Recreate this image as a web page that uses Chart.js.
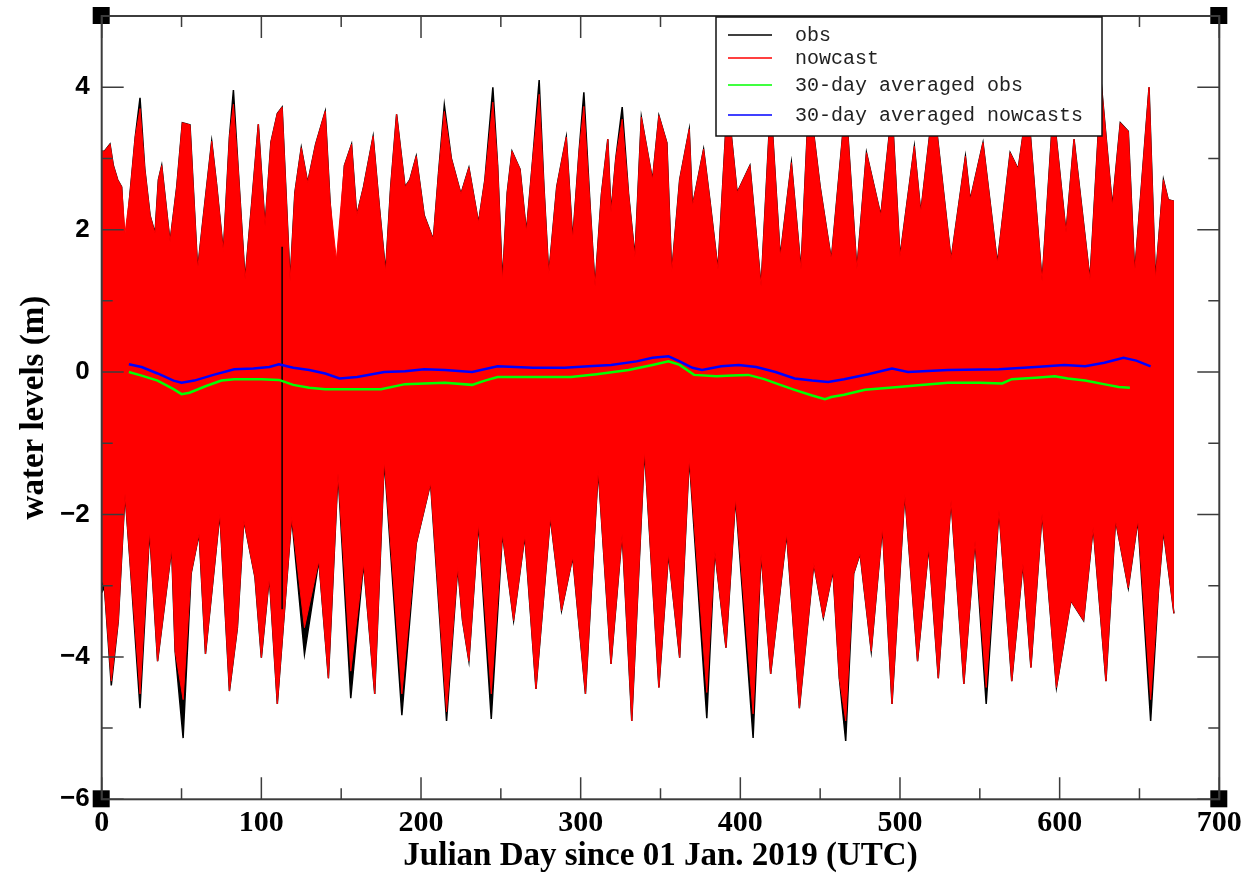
<!DOCTYPE html>
<html>
<head>
<meta charset="utf-8">
<script src="https://cdn.jsdelivr.net/npm/chart.js@4/dist/chart.umd.min.js"></script>
<style>
  html, body { margin: 0; padding: 0; background: #fff; }
</style>
</head>
<body>
<canvas id="wlChart" width="1254" height="877"></canvas>
<script>
// upper edge of the hourly band (days since 01 Jan 2019, metres)
var upDays = [0, 1.7, 5.2, 7.3, 10, 12.5, 14.6, 17.7, 21, 24,
  27, 30.3, 33.4, 35.5, 37.6, 42.8, 47, 50.5, 55.3, 60.1,
  63, 68.9, 72, 76.2, 80, 82.5, 85.5, 89.8, 94, 98.1,
  102.3, 106, 110, 113, 118, 121, 125, 129, 134, 140,
  143, 147, 152, 156.5, 159.7, 164, 170, 174, 177.8, 181,
  184.7, 190, 193, 197, 202, 207.7, 211, 214.6, 219, 225,
  230, 236, 240, 245, 248, 251, 254, 257, 262, 266,
  270, 274, 277, 280, 285, 291, 295, 299, 302, 306,
  309, 313, 317, 319, 322, 326, 330, 334, 338, 345,
  349, 354, 357, 362, 368, 370, 377, 381, 386, 392,
  398, 406, 413, 419, 425, 432, 438, 443, 450, 457,
  466, 473, 479, 488, 495, 500, 509, 513, 521, 532,
  541, 544, 552, 561, 569, 574, 580, 589, 596, 604,
  609, 619, 626, 633, 638, 643, 647, 656, 660, 665,
  668, 671.6];
var nowUp = [3.1, 3.1, 3.2, 2.9, 2.7, 2.6, 1.95, 2.5, 3.3, 3.7,
  2.85, 2.2, 1.95, 2.7, 2.9, 1.83, 2.6, 3.5, 3.47, 1.44,
  2.05, 3.24, 2.63, 1.69, 3.3, 3.76, 2.85, 1.3, 2.38, 3.48,
  2.05, 3.23, 3.63, 3.72, 1.27, 2.52, 3.15, 2.66, 3.2, 3.66,
  2.4, 1.58, 2.9, 3.2, 2.2, 2.6, 3.31, 2.3, 1.41, 2.6,
  3.62, 2.6, 2.7, 3.03, 2.2, 1.86, 2.8, 3.66, 3.0, 2.5,
  2.87, 2.1, 2.7, 3.79, 2.9, 1.27, 2.52, 3.1, 2.85, 1.97,
  3.0, 3.9, 2.6, 1.37, 2.6, 3.3, 1.86, 3.1, 3.73, 2.3,
  1.2, 2.5, 3.27, 2.24, 3.0, 3.55, 2.5, 1.62, 3.58, 2.7,
  3.6, 3.22, 1.39, 2.7, 3.41, 2.33, 3.13, 2.4, 1.44, 3.85,
  2.52, 2.9, 1.2, 3.8, 1.62, 2.94, 1.44, 3.9, 2.6, 1.58,
  3.8, 1.44, 3.08, 2.2, 3.7, 1.62, 3.17, 2.24, 3.8, 1.58,
  3.03, 2.42, 3.22, 1.53, 3.08, 2.85, 3.8, 1.27, 3.7, 1.96,
  3.27, 1.3, 4.07, 2.33, 3.5, 3.38, 1.39, 4.0, 1.3, 2.7,
  2.42, 2.4];
var obsUp = [3.1, 3.1, 3.2, 2.9, 2.7, 2.6, 1.75, 2.5, 3.3, 3.85,
  2.85, 2.2, 1.95, 2.7, 2.9, 1.83, 2.6, 3.5, 3.47, 1.44,
  2.05, 3.24, 2.63, 1.69, 3.3, 3.96, 2.85, 1.3, 2.38, 3.48,
  2.05, 3.23, 3.63, 3.72, 1.27, 2.52, 3.15, 2.66, 3.2, 3.66,
  2.4, 1.2, 2.9, 3.2, 2.2, 2.6, 3.31, 2.3, 1.41, 2.6,
  3.62, 2.6, 2.7, 3.03, 2.2, 1.86, 2.8, 3.75, 3.0, 2.5,
  2.87, 2.1, 2.7, 4.0, 2.9, 1.27, 2.52, 3.1, 2.85, 1.97,
  3.0, 4.1, 2.6, 1.37, 2.6, 3.3, 1.86, 3.1, 3.93, 2.3,
  1.2, 2.5, 3.27, 2.24, 3.0, 3.72, 2.5, 1.62, 3.58, 2.7,
  3.6, 3.22, 1.39, 2.7, 3.41, 2.33, 3.13, 2.4, 1.44, 3.85,
  2.52, 2.9, 1.2, 3.8, 1.62, 2.94, 1.44, 3.9, 2.6, 1.58,
  3.8, 1.44, 3.08, 2.2, 3.7, 1.62, 3.17, 2.24, 3.8, 1.58,
  3.03, 2.42, 3.22, 1.53, 3.08, 2.85, 3.8, 1.27, 3.7, 1.96,
  3.27, 1.3, 4.07, 2.33, 3.5, 3.38, 1.39, 4.0, 1.3, 2.7,
  2.42, 2.4];

// lower edge of the band
var loDays = [0, 1.7, 6, 10.4, 14.6, 17.7, 24, 30, 35, 43.8,
  46, 51, 56, 61, 65, 74, 80, 85, 89, 96,
  100, 105, 110, 119, 127, 136, 142, 148, 156, 164,
  171, 177, 188, 197, 206, 216, 223, 226, 230, 236,
  244, 251, 258, 265, 272, 281, 288, 295, 303, 311,
  319, 326, 332, 340, 349, 355, 362, 368, 379, 384,
  391, 397, 408, 413, 419, 429, 437, 446, 452, 458,
  462, 466, 471, 475, 482, 489, 495, 503, 511, 518,
  524, 532, 540, 547, 554, 562, 570, 577, 582, 589,
  598, 607, 615, 621, 629, 635, 643, 649, 657, 662,
  665, 671.6];
var nowLo = [-2.9, -3.02, -4.34, -3.49, -1.71, -2.65, -4.52, -2.23, -4.06, -2.48,
  -3.92, -4.6, -2.83, -2.27, -3.96, -1.99, -4.48, -3.59, -2.08, -2.88,
  -4.01, -2.88, -4.66, -2.04, -3.59, -2.65, -4.3, -1.42, -4.2, -2.69,
  -4.52, -1.24, -4.52, -2.41, -1.56, -4.77, -2.74, -3.49, -4.06, -2.13,
  -4.52, -2.27, -3.49, -2.3, -4.45, -2.04, -3.35, -2.6, -4.52, -1.38,
  -4.1, -2.27, -4.9, -1.1, -4.43, -2.55, -4.01, -1.21, -4.5, -2.51,
  -3.87, -1.77, -4.8, -2.55, -4.24, -2.27, -4.72, -2.69, -3.45, -2.79,
  -4.3, -4.9, -2.83, -2.55, -3.92, -2.18, -4.66, -1.71, -4.06, -2.46,
  -4.3, -1.8, -4.38, -2.37, -4.43, -1.94, -4.34, -2.69, -4.15, -1.99,
  -4.43, -3.21, -3.49, -2.18, -4.34, -2.08, -3.03, -2.08, -4.6, -3.03,
  -2.23, -3.39];
var obsLo = [-3.1, -3.02, -4.4, -3.49, -1.71, -2.65, -4.72, -2.23, -4.06, -2.48,
  -3.92, -5.14, -2.83, -2.27, -3.96, -1.99, -4.48, -3.59, -2.08, -2.88,
  -4.01, -2.88, -4.66, -2.04, -3.96, -2.65, -4.3, -1.42, -4.58, -2.69,
  -4.52, -1.24, -4.82, -2.41, -1.56, -4.9, -2.74, -3.49, -4.06, -2.13,
  -4.87, -2.27, -3.49, -2.3, -4.45, -2.04, -3.35, -2.6, -4.52, -1.38,
  -4.1, -2.27, -4.9, -1.1, -4.43, -2.55, -4.01, -1.21, -4.86, -2.51,
  -3.87, -1.77, -5.14, -2.55, -4.24, -2.27, -4.72, -2.69, -3.45, -2.79,
  -4.3, -5.18, -2.83, -2.55, -3.92, -2.18, -4.66, -1.71, -4.06, -2.46,
  -4.3, -1.8, -4.38, -2.37, -4.66, -1.94, -4.34, -2.69, -4.15, -1.99,
  -4.43, -3.21, -3.49, -2.18, -4.34, -2.08, -3.03, -2.08, -4.9, -3.03,
  -2.23, -3.39];

// stray obs segment near day 113
var gapDays = [113, 113];
var gapVals = [1.76, -3.33];

// 30-day averages
var avgObsDays = [17, 25, 35, 45, 50, 55, 65, 75, 83, 100, 111, 120, 130, 140, 160, 175, 190, 202, 215, 232,
  240, 248, 270, 294, 310, 330, 345, 355, 362, 371, 385, 395, 405, 415, 425, 434, 445, 453, 457, 465,
  478, 499, 515, 530, 550, 564, 570, 585, 597, 605, 616, 630, 637, 644];
var avgObs = [0.0, -0.05, -0.12, -0.24, -0.31, -0.29, -0.2, -0.12, -0.1, -0.1, -0.11, -0.18, -0.22, -0.24, -0.24, -0.24, -0.17, -0.16, -0.15, -0.18,
  -0.12, -0.07, -0.07, -0.07, -0.03, 0.03, 0.1, 0.15, 0.1, -0.04, -0.06, -0.05, -0.04, -0.1, -0.18, -0.25, -0.33, -0.38, -0.35, -0.32,
  -0.25, -0.21, -0.18, -0.15, -0.15, -0.16, -0.1, -0.08, -0.06, -0.09, -0.12, -0.18, -0.21, -0.22];
var avgNowDays = [17, 25, 35, 45, 50, 58, 70, 83, 95, 105, 111, 120, 130, 140, 149, 160, 177, 190, 202, 215,
  232, 248, 270, 290, 305, 319, 335, 345, 355, 362, 370, 376, 388, 399, 410, 422, 434, 445, 455, 465,
  480, 495, 505, 530, 562, 585, 603, 616, 628, 640, 648, 657];
var avgNow = [0.11, 0.07, -0.02, -0.12, -0.15, -0.12, -0.04, 0.04, 0.05, 0.07, 0.11, 0.06, 0.03, -0.02, -0.09, -0.07, 0.0, 0.01, 0.04, 0.03,
  0.0, 0.08, 0.06, 0.06, 0.08, 0.1, 0.15, 0.2, 0.22, 0.15, 0.06, 0.03, 0.08, 0.1, 0.07, 0.0, -0.09, -0.12, -0.14, -0.1,
  -0.03, 0.05, 0.0, 0.03, 0.04, 0.07, 0.1, 0.08, 0.13, 0.2, 0.16, 0.08];

var yTicks = [-6, -4, -2, 0, 2, 4];
var xTicks = [0, 100, 200, 300, 400, 500, 600, 700];

function pts(days, vals) {
  return days.map(function (d, i) { return { x: d, y: vals[i] }; });
}

// inward ticks, frame and corner marks
var frameTicks = {
  id: "frameTicks",
  afterDatasetsDraw: function (chart) {
    var ctx = chart.ctx, a = chart.chartArea;
    var xs = chart.scales.x, ys = chart.scales.y;
    ctx.save();
    ctx.fillStyle = "#000";
    [[a.left, a.top], [a.right, a.top], [a.left, a.bottom], [a.right, a.bottom]].forEach(function (c) {
      ctx.fillRect(c[0] - 9, c[1] - 9, 17, 17);
    });
    ctx.strokeStyle = "#3c3c3c";
    ctx.lineWidth = 1.5;
    ys.ticks.forEach(function (t) {
      var py = ys.getPixelForValue(t.value);
      var len = yTicks.indexOf(t.value) >= 0 ? 22 : 11;
      ctx.beginPath();
      ctx.moveTo(a.left, py); ctx.lineTo(a.left + len, py);
      ctx.moveTo(a.right, py); ctx.lineTo(a.right - len, py);
      ctx.stroke();
    });
    xs.ticks.forEach(function (t) {
      var px = xs.getPixelForValue(t.value);
      var len = xTicks.indexOf(t.value) >= 0 ? 22 : 11;
      ctx.beginPath();
      ctx.moveTo(px, a.bottom); ctx.lineTo(px, a.bottom - len);
      ctx.moveTo(px, a.top); ctx.lineTo(px, a.top + len);
      ctx.stroke();
    });
    ctx.lineWidth = 2;
    ctx.strokeRect(a.left, a.top, a.right - a.left, a.bottom - a.top);
    ctx.restore();
  }
};

// boxed legend inside the plot, top right
var boxLegend = {
  id: "boxLegend",
  afterDraw: function (chart) {
    var ctx = chart.ctx;
    var rows = [35, 58, 85, 115];
    var items = chart.data.datasets.filter(function (d) { return d.inLegend; });
    ctx.save();
    ctx.fillStyle = "#fff";
    ctx.fillRect(716, 17, 386, 119);
    ctx.strokeStyle = "#111";
    ctx.lineWidth = 1.5;
    ctx.strokeRect(716, 17, 386, 119);
    ctx.font = '20px "Liberation Mono", "Courier New", monospace';
    ctx.textBaseline = "middle";
    items.forEach(function (d, i) {
      ctx.strokeStyle = d.borderColor;
      ctx.lineWidth = 1.5;
      ctx.beginPath();
      ctx.moveTo(728, rows[i]);
      ctx.lineTo(772, rows[i]);
      ctx.stroke();
      ctx.fillStyle = "#222";
      ctx.fillText(d.label, 795, rows[i] + 1);
    });
    ctx.restore();
  }
};

document.addEventListener("DOMContentLoaded", function () {
  var ctx = document.getElementById("wlChart").getContext("2d");
  new Chart(ctx, {
    type: "line",
    data: {
      datasets: [
        { label: "obs", inLegend: true, data: pts(upDays, obsUp), borderColor: "#000000", backgroundColor: "#000000",
          borderWidth: 1.5, pointRadius: 0, fill: "origin", order: 6 },
        { label: "obs (low)", data: pts(loDays, obsLo), borderColor: "#000000", backgroundColor: "#000000",
          borderWidth: 1.5, pointRadius: 0, fill: "origin", order: 6 },
        { label: "nowcast", inLegend: true, data: pts(upDays, nowUp), borderColor: "#ff0000", backgroundColor: "#ff0000",
          borderWidth: 1, pointRadius: 0, fill: "origin", order: 5 },
        { label: "nowcast (low)", data: pts(loDays, nowLo), borderColor: "#ff0000", backgroundColor: "#ff0000",
          borderWidth: 1, pointRadius: 0, fill: "origin", order: 5 },
        { label: "obs (gap)", data: pts(gapDays, gapVals), borderColor: "#000000",
          borderWidth: 1.5, pointRadius: 0, fill: false, order: 3 },
        { label: "30-day averaged obs", inLegend: true, data: pts(avgObsDays, avgObs), borderColor: "#00ff00",
          borderWidth: 2.5, pointRadius: 0, fill: false, order: 2 },
        { label: "30-day averaged nowcasts", inLegend: true, data: pts(avgNowDays, avgNow), borderColor: "#0000ff",
          borderWidth: 2.5, pointRadius: 0, fill: false, order: 1 }
      ]
    },
    options: {
      responsive: false,
      animation: false,
      layout: { padding: { left: 0, right: 34.7, top: 16, bottom: 0 } },
      plugins: { legend: { display: false }, tooltip: { enabled: false } },
      scales: {
        x: {
          type: "linear", min: 0, max: 700,
          afterFit: function (s) { s.height = 77.7; },
          grid: { display: false, drawTicks: false },
          border: { display: false },
          ticks: {
            stepSize: 50, autoSkip: false, maxRotation: 0, padding: 6, color: "#000",
            font: { family: '"Liberation Serif", "Times New Roman", serif', size: 30, weight: "bold" },
            callback: function (v) { return xTicks.indexOf(v) >= 0 ? String(v) : ""; }
          },
          title: {
            display: true, text: "Julian Day since 01 Jan. 2019 (UTC)", color: "#000",
            font: { family: '"Liberation Serif", "Times New Roman", serif', size: 33, weight: "bold" },
            padding: { top: 0, bottom: 1 }
          }
        },
        y: {
          type: "linear", min: -6, max: 5,
          afterFit: function (s) { s.width = 101.7; s.paddingTop = 0; },
          // no tick object at the top edge, so no extra label room is reserved there
          afterBuildTicks: function (s) { s.ticks = s.ticks.filter(function (t) { return t.value < 5; }); },
          grid: { display: false, drawTicks: false },
          border: { display: false },
          ticks: {
            stepSize: 1, autoSkip: false, padding: 12, color: "#000",
            font: { family: '"Liberation Sans", Arial, sans-serif', size: 26, weight: "bold" },
            callback: function (v) {
              if (yTicks.indexOf(v) < 0) return "";
              return v < 0 ? "\u2212" + Math.abs(v) : String(v);
            }
          },
          title: {
            display: true, text: "water levels (m)", color: "#000",
            font: { family: '"Liberation Serif", "Times New Roman", serif', size: 33, weight: "bold" },
            padding: { top: 15, bottom: 0 }
          }
        }
      }
    },
    plugins: [frameTicks, boxLegend]
  });
});
</script>
</body>
</html>
